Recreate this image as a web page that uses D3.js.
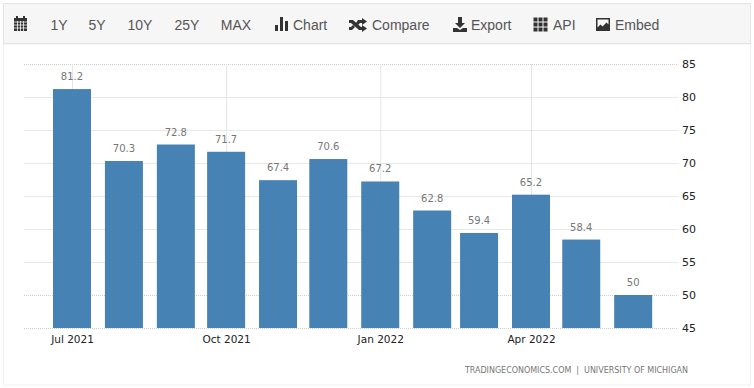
<!DOCTYPE html>
<html>
<head>
<meta charset="utf-8">
<script src="https://cdnjs.cloudflare.com/ajax/libs/d3/7.8.5/d3.min.js"></script>
<style>
html, body { margin: 0; padding: 0; background: #fff; }
svg { display: block; }
</style>
</head>
<body>
<svg id="chart" width="754" height="388"></svg>
<script>
const months = ["2021-07-01", "2021-08-01", "2021-09-01", "2021-10-01", "2021-11-01", "2021-12-01",
	"2022-01-01", "2022-02-01", "2022-03-01", "2022-04-01", "2022-05-01", "2022-06-01"];
const values = [81.2, 70.3, 72.8, 71.7, 67.4, 70.6, 67.2, 62.8, 59.4, 65.2, 58.4, 50];
const yTicks = [45, 50, 55, 60, 65, 70, 75, 80, 85];
const dottedTicks = [45, 50, 85];
const xTickDates = ["2021-07-01", "2021-10-01", "2022-01-01", "2022-04-01"];
const rangeLabels = ["1Y", "5Y", "10Y", "25Y", "MAX"];
const rangeCenters = [59, 97, 140, 187, 236];
const menuLabels = ["Chart", "Compare", "Export", "API", "Embed"];
const menuStarts = [293, 372, 471, 553, 615];
const credit = "TRADINGECONOMICS.COM  |  UNIVERSITY OF MICHIGAN";

const svg = d3.select("#chart");
const parse = d3.utcParse("%Y-%m-%d");
const barWidth = 38;
const textGray = "#555";

const xscale = d3.scaleUtc()
	.domain([parse("2021-07-01"), parse("2022-04-01")])
	.range([72, 531]);
const yscale = d3.scaleLinear()
	.domain([45, 85])
	.range([328, 64]);

// page frame
svg.append("rect").attr("x", 3.5).attr("y", 44).attr("width", 747).attr("height", 341)
	.attr("fill", "#fff").attr("stroke", "#f0f0f0");

// toolbar
svg.append("rect").attr("x", 3.5).attr("y", 3.5).attr("width", 747).attr("height", 40)
	.attr("fill", "#f6f6f6").attr("stroke", "#e4e4e4");

const toolbarText = svg.append("g")
	.attr("font-family", "'Liberation Sans', Arial, sans-serif")
	.attr("font-size", 14)
	.attr("fill", textGray);

toolbarText.selectAll(".range")
	.data(rangeLabels)
	.join("text")
	.attr("class", "range")
	.attr("x", (d, i) => rangeCenters[i])
	.attr("y", 29.5)
	.attr("text-anchor", "middle")
	.text(d => d);

toolbarText.selectAll(".menu")
	.data(menuLabels)
	.join("text")
	.attr("class", "menu")
	.attr("x", (d, i) => menuStarts[i])
	.attr("y", 29.5)
	.text(d => d);

// toolbar icons
const icons = svg.append("g").attr("fill", "#333");
// calendar
icons.append("path").attr("d", "M14 18h13v13h-13z M16 16h2v3h-2z M23 16h2v3h-2z");
const calendarLines = icons.append("g").attr("stroke", "#f6f6f6").attr("stroke-width", 0.8);
d3.range(3).forEach(i => calendarLines.append("line").attr("x1", 14).attr("x2", 27).attr("y1", 22 + i * 3).attr("y2", 22 + i * 3));
d3.range(3).forEach(i => calendarLines.append("line").attr("y1", 21).attr("y2", 31).attr("x1", 17.5 + i * 3).attr("x2", 17.5 + i * 3));
// bar chart
icons.append("path").attr("d", "M275 25h3v6h-3z M280 17h3v14h-3z M285 21h3v10h-3z");
// shuffle
icons.append("path").attr("d", "M349 20h4l8 7h1v-2l5 3.500-5 3.500v-2h-3l-8-7h-2z M349 27h2l2-2 2 2-3 3h-3z M358 20h4v-2l5 3.500-5 3.500v-2h-2l-2 2-2-2z");
// export
icons.append("path").attr("d", "M458 17h4v6h3l-5 5-5-5h3z M453 28h4l3 2 3-2h4v4h-14z");
// api grid
d3.range(9).forEach(i => icons.append("rect")
	.attr("x", 533.500 + (i % 3) * 5).attr("y", 17.500 + Math.floor(i / 3) * 5)
	.attr("width", 4).attr("height", 4));
// embed
icons.append("path").attr("fill-rule", "evenodd")
	.attr("d", "M596 18h14v13h-14z M597.500 19.500v8l3-3 2 2 4-4 2 2v-5z");

// grid
const grid = svg.append("g");
grid.selectAll(".hgrid")
	.data(yTicks)
	.join("line")
	.attr("class", "hgrid")
	.attr("x1", 24)
	.attr("x2", 678)
	.attr("y1", d => Math.round(yscale(d)) + 0.5)
	.attr("y2", d => Math.round(yscale(d)) + 0.5)
	.attr("stroke", d => dottedTicks.includes(d) ? "#d0d0d0" : "#e8e8e8")
	.attr("stroke-dasharray", d => dottedTicks.includes(d) ? "1,1" : null);
grid.selectAll(".vgrid")
	.data(xTickDates)
	.join("line")
	.attr("class", "vgrid")
	.attr("x1", d => xscale(parse(d)) + 0.5)
	.attr("x2", d => xscale(parse(d)) + 0.5)
	.attr("y1", 64)
	.attr("y2", 328)
	.attr("stroke", "#e6e6e6");

// bars
svg.append("g").selectAll("rect")
	.data(values)
	.join("rect")
	.attr("x", (d, i) => xscale(parse(months[i])) - barWidth / 2)
	.attr("y", d => yscale(d))
	.attr("width", barWidth)
	.attr("height", d => yscale(45) - yscale(d))
	.attr("fill", "#4682b4");

// value labels
svg.append("g").selectAll("text")
	.data(values)
	.join("text")
	.attr("x", (d, i) => xscale(parse(months[i])))
	.attr("y", d => yscale(d) - 9)
	.attr("text-anchor", "middle")
	.attr("font-family", "'DejaVu Sans', Verdana, sans-serif")
	.attr("font-size", 10)
	.attr("fill", "#777")
	.text(d => d);

// axes
const xAxis = svg.append("g")
	.attr("transform", "translate(0,328)")
	.call(d3.axisBottom(xscale)
		.tickValues(xTickDates.map(parse))
		.tickSize(0)
		.tickPadding(8)
		.tickFormat(d3.utcFormat("%b %Y")));
xAxis.select(".domain").remove();
xAxis.selectAll("text")
	.attr("font-family", "'DejaVu Sans', Verdana, sans-serif")
	.attr("font-size", 10.5)
	.attr("fill", "#222");

const yAxis = svg.append("g")
	.attr("transform", "translate(682,0)")
	.call(d3.axisRight(yscale).tickValues(yTicks).tickSize(0).tickPadding(0));
yAxis.select(".domain").remove();
yAxis.selectAll("text")
	.attr("font-family", "'DejaVu Sans', Verdana, sans-serif")
	.attr("font-size", 11)
	.attr("fill", "#222");

// source line
svg.append("text")
	.attr("x", 688)
	.attr("y", 373)
	.attr("text-anchor", "end")
	.attr("font-family", "'DejaVu Sans', Verdana, sans-serif")
	.attr("font-size", 8)
	.attr("letter-spacing", -0.02)
	.attr("fill", "#777")
	.attr("xml:space", "preserve")
	.text(credit);
</script>
</body>
</html>
